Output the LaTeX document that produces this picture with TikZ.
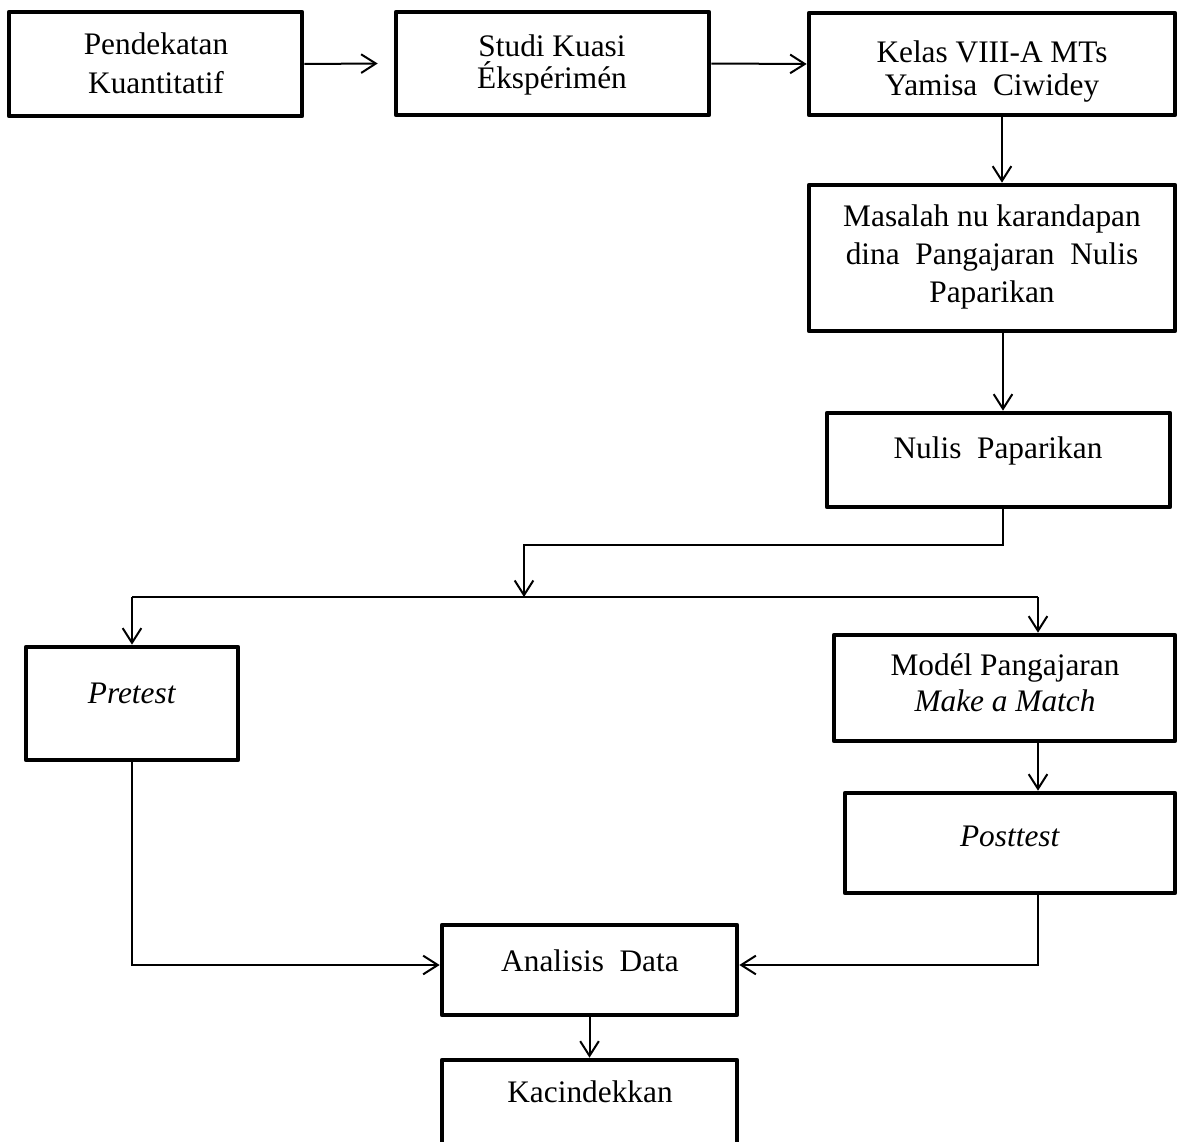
\documentclass[tikz,border=0pt]{standalone}
\usepackage{fontspec}
\setmainfont{Liberation Serif}
\usetikzlibrary{arrows.meta,fit}
\begin{document}
\begin{tikzpicture}[x=0.75pt,y=-0.75pt,
  box/.style={draw,line width=3.5pt,line join=round,inner sep=0pt},
  lbl/.style={font=\fontsize{23.5pt}{28pt}\selectfont,inner sep=0pt,anchor=base},
  conn/.style={line width=1.5pt},
  arr/.style={conn,-{Straight Barb[length=11pt,width=14pt,line width=1.5pt]}}]
\useasboundingbox (0,0) rectangle (1179,1142);
\clip (0,0) rectangle (1179,1142);

% boxes
\node[box,fit={(9,12) (302,116)}] (b1) {};
\node[box,fit={(396,12) (709,115)}] (b2) {};
\node[box,fit={(809,13) (1175,115)}] (b3) {};
\node[box,fit={(809,185) (1175,331)}] (b4) {};
\node[box,fit={(827,413) (1170,507)}] (b5) {};
\node[box,fit={(26,647) (238,760)}] (b6) {};
\node[box,fit={(834,635) (1175,741)}] (b7) {};
\node[box,fit={(845,793) (1175,893)}] (b8) {};
\node[box,fit={(442,925) (737,1015)}] (b9) {};
\node[box,fit={(442,1060) (737,1170)}] (b10) {};

% texts
\node[lbl] (t1a) at (156,55) {Pendekatan};
\node[lbl] (t1b) at (156,93) {Kuantitatif};
\node[lbl] (t2a) at (552,56) {Studi Kuasi};
\node[lbl] (t2b) at (552,88) {Ékspérimén};
\node[lbl] (t3a) at (992,62) {Kelas VIII-A MTs};
\node[lbl] (t3b) at (992,95) {Yamisa\ \ Ciwidey};
\node[lbl] (t4a) at (992,226) {Masalah nu karandapan};
\node[lbl] (t4b) at (992,264) {dina\ \ Pangajaran\ \ Nulis};
\node[lbl] (t4c) at (992,302) {Paparikan};
\node[lbl] (t5) at (998,458) {Nulis\ \ Paparikan};
\node[lbl] (t6) at (132,703) {\textit{Pretest}};
\node[lbl] (t7a) at (1005,675) {Modél Pangajaran};
\node[lbl] (t7b) at (1005,711) {\textit{Make a Match}};
\node[lbl] (t8) at (1010,846) {\textit{Posttest}};
\node[lbl] (t9) at (590,971) {Analisis\ \ Data};
\node[lbl] (t10) at (590,1102) {Kacindekkan};

% helper coordinates
\coordinate (k1) at (1003,545);
\coordinate (k2) at (524,545);
\coordinate (hub) at (524,597);
\coordinate (mr) at (1038,597);

% connectors
\draw[arr] (b1.east) -- ([xshift=-12pt]b2.west);
\draw[arr] (b2.east) -- (b3.west);
\draw[arr] ([xshift=7.5pt]b3.south) -- ([xshift=7.5pt]b4.north);
\draw[arr] ([xshift=8.25pt]b4.south) -- ([xshift=8.25pt]b4.south |- b5.north);
\draw[arr] (b5.south -| k1) -- (k1) -- (k2) -- (hub);
\draw[conn] (hub -| b6.north) -- (mr);
\draw[arr] (hub -| b6.north) -- (b6.north);
\draw[arr] (mr) -- (mr |- b7.north);
\draw[arr] (mr |- b7.south) -- (mr |- b8.north);
\draw[arr] (mr |- b8.south) |- ([yshift=3.75pt]b9.east);
\draw[arr] (b6.south) |- ([yshift=3.75pt]b9.west);
\draw[arr] (b9.south) -- (b10.north);
\end{tikzpicture}
\end{document}
